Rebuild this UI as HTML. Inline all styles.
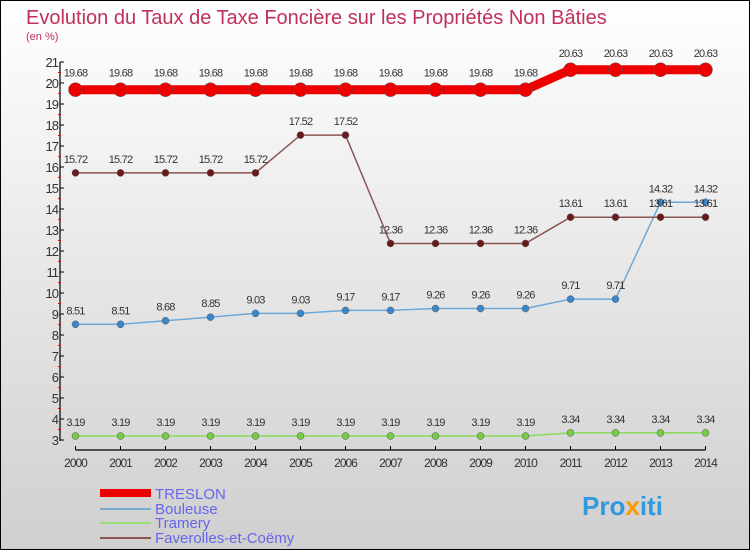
<!DOCTYPE html>
<html><head><meta charset="utf-8"><style>
body{margin:0;}
#wrap{width:750px;height:550px;position:relative;overflow:hidden;font-family:"Liberation Sans",sans-serif;}
</style></head><body>
<div id="wrap">
<svg id="chart" width="750" height="550" xmlns="http://www.w3.org/2000/svg">
<defs><linearGradient id="bg" x1="0" y1="0" x2="0" y2="1"><stop offset="0" stop-color="#ffffff"/><stop offset="1" stop-color="#cfcfcf"/></linearGradient></defs>
<rect x="0.5" y="0.5" width="749" height="549" fill="url(#bg)" stroke="#000"/>
<text x="26" y="24" font-size="20" fill="#c0305a">Evolution du Taux de Taxe Foncière sur les Propriétés Non Bâties</text>
<text x="26" y="40" font-size="11" fill="#c0305a">(en %)</text>
<g id="axes"></g><g id="series"></g>
<g>
<rect x="100" y="489" width="51" height="8" fill="#e00"/>
<text x="155" y="499" font-size="15" fill="#6666ee">TRESLON</text>
<rect x="100" y="508" width="51" height="2" fill="#7aaed0"/>
<text x="155" y="514" font-size="15" fill="#6666ee">Bouleuse</text>
<rect x="100" y="522" width="51" height="2" fill="#99dd77"/>
<text x="155" y="528" font-size="15" fill="#6666ee">Tramery</text>
<rect x="100" y="537" width="51" height="2" fill="#8b5555"/>
<text x="155" y="543" font-size="15" fill="#6666ee">Faverolles-et-Coëmy</text>
</g>
<g>
<text x="582" y="515" font-size="26" font-weight="bold" fill="#3399dd">Pro<tspan fill="#ff9900">x</tspan>iti</text>
</g>
</svg>
</div>
<script>
const years=[2000,2001,2002,2003,2004,2005,2006,2007,2008,2009,2010,2011,2012,2013,2014];
const yTicks=[3,4,5,6,7,8,9,10,11,12,13,14,15,16,17,18,19,20,21];
const treslon=[19.68,19.68,19.68,19.68,19.68,19.68,19.68,19.68,19.68,19.68,19.68,20.63,20.63,20.63,20.63];
const bouleuse=[8.51,8.51,8.68,8.85,9.03,9.03,9.17,9.17,9.26,9.26,9.26,9.71,9.71,14.32,14.32];
const tramery=[3.19,3.19,3.19,3.19,3.19,3.19,3.19,3.19,3.19,3.19,3.19,3.34,3.34,3.34,3.34];
const faverolles=[15.72,15.72,15.72,15.72,15.72,17.52,17.52,12.36,12.36,12.36,12.36,13.61,13.61,13.61,13.61];
const NS="http://www.w3.org/2000/svg";
const xs=i=>75.5+i*45;
const ys=v=>440-(v-3)*21;
function mk(tag,at,parent){const e=document.createElementNS(NS,tag);for(const k in at)e.setAttribute(k,at[k]);parent.appendChild(e);return e;}
const ax=document.getElementById('axes');
let l=mk('line',{x1:60,y1:ys(21),x2:60,y2:441,stroke:'#000','stroke-width':1.2},ax);


l=mk('line',{x1:xs(0),y1:450,x2:xs(14),y2:450,stroke:'#000','stroke-width':1.2},ax);


yTicks.forEach(v=>{
 mk('line',{x1:60,y1:ys(v),x2:64,y2:ys(v),stroke:'#000'},ax);
 if(v<21) mk('line',{x1:58,y1:ys(v+0.5),x2:61,y2:ys(v+0.5),stroke:'#e00'},ax);
 const t=mk('text',{x:58,y:ys(v)+5,'font-size':13,fill:'#333','text-anchor':'end','letter-spacing':'-1'},ax);
 t.textContent=v;
 
 
});
years.forEach((y,i)=>{
 mk('line',{x1:xs(i),y1:446,x2:xs(i),y2:450,stroke:'#000'},ax);
 const t=mk('text',{x:xs(i),y:467,'font-size':12,fill:'#333','text-anchor':'middle','letter-spacing':'-1'},ax);
 t.textContent=y;
 
 
});
const sg=document.getElementById('series');
function series(name,vals,color,dot,w,r){
 const g=mk('g',{},sg);
 
 
 const p=mk('polyline',{points:vals.map((v,i)=>xs(i)+','+ys(v)).join(' '),fill:'none',stroke:color,'stroke-width':w},g);
 
 
 vals.forEach((v,i)=>{
  const c=mk('circle',{cx:xs(i),cy:ys(v),r:r,fill:dot,stroke:'#555','stroke-width':0.5},g);
  
  
  const t=mk('text',{x:xs(i),y:ys(v)-(r>5?13:10),'font-size':11,fill:'#333','text-anchor':'middle','letter-spacing':'-0.8'},g);
  t.textContent=v.toFixed(2);
  
  
 });
}
series('tramery',tramery,'#88dd55','#77cc44',1.5,3.5);
series('bouleuse',bouleuse,'#6fa8d6','#3a88cc',1.5,3.5);
series('faverolles',faverolles,'#8b5555','#6b1a1a',1.5,3.5);
series('treslon',treslon,'#ee0000','#ee0000',9,7);
</script>
</body></html>
